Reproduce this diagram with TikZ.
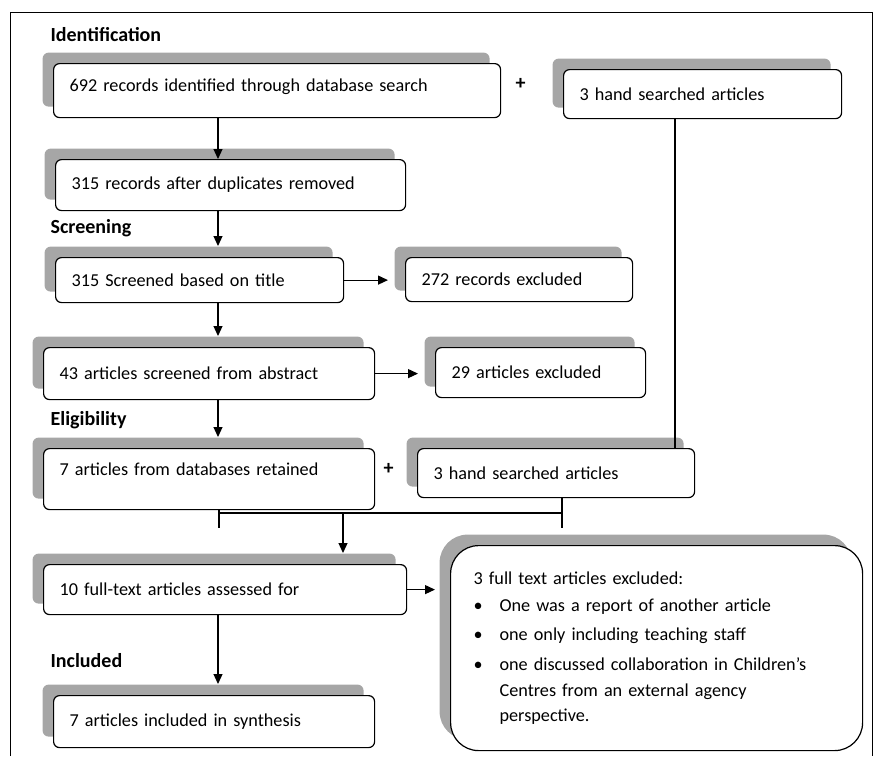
\documentclass[tikz,border=0pt]{standalone}
\usepackage{fontspec}
\setmainfont{Carlito}
\usetikzlibrary{arrows.meta,shadows}

\begin{document}
\begin{tikzpicture}[x=1pt,y=-1pt, line width=1.2pt,
    font=\fontsize{18.2}{25.5}\selectfont,
    box/.style={draw, rounded corners=6pt, fill=white, anchor=north west,
      inner xsep=16pt, inner ysep=0pt, align=left,
      general shadow={fill=black!35, shadow xshift=-11pt, shadow yshift=11pt}},
    head/.style={anchor=west, inner sep=0pt, font=\fontsize{20}{24}\selectfont\bfseries},
    >={Triangle[length=10pt,width=9pt]}, arr/.style={->, shorten >=11pt}]
  \useasboundingbox (0,0) rectangle (878,756);
  \draw[line width=1pt] (10,756) -- (10,12) -- (872,12) -- (872,756);
  \coordinate (spine) at (218,0);
  \coordinate (rspine) at (675,0);
  \node[head] (h1) at (50,35) {Identification};
  \node[head] (h2) at (50,228) {Screening};
  \node[head] (h3) at (50,420) {Eligibility};
  \node[head] (h4) at (50,661) {Included};
  \node[box, text width=415pt, minimum height=54pt, text depth=10pt] (id) at (53,63) {692 records identified through database search};
  \node[head] (p1) at (515,84) {+};
  \node[box, text width=246pt, minimum height=49pt] (hand1) at (563,69) {3 hand searched articles};
  \node[box, text width=318pt, minimum height=51pt] (dup) at (55,159) {315 records after duplicates removed};
  \node[box, text width=256pt, minimum height=45pt] (title) at (55,257) {315 Screened based on title};
  \node[box, text width=195pt, minimum height=44pt] (exc1) at (405,257) {272 records excluded};
  \node[box, text width=299pt, minimum height=52pt] (abstr) at (43,347) {43 articles screened from abstract};
  \node[box, text width=178pt, minimum height=50pt] (exc2) at (435,347) {29 articles excluded};
  \node[box, text width=299pt, minimum height=61pt, text depth=20pt] (retain) at (43,448) {7 articles from databases retained};
  \node[head] (p2) at (383,469) {+};
  \node[box, text width=245pt, minimum height=49pt] (hand2) at (417,448) {3 hand searched articles};
  \node[box, text width=331pt, minimum height=50pt] (full) at (43,564) {10 full-text articles assessed for};
  \node[box, text width=366pt, minimum height=205pt, inner xsep=23pt, rounded corners=28pt] (exc3) at (450,545)
    {3 full text articles excluded:\\[2pt]
     \makebox[26pt][l]{\textbullet}One was a report of another article\\[3pt]
     \makebox[26pt][l]{\textbullet}one only including teaching staff\\[5pt]
     \makebox[26pt][l]{\textbullet}one discussed collaboration in Children’s\\
     \hspace*{26pt}Centres from an external agency\\
     \hspace*{26pt}perspective.};
  \node[box, text width=289pt, minimum height=52pt] (incl) at (53,695) {7 articles included in synthesis};
  % connectors
  \draw[->] (id.south -| spine) -- (dup.north -| spine);
  \draw (hand1.south -| rspine) -- (hand2.north -| rspine);
  \draw[arr] (dup.south -| spine) -- (title.north -| spine);
  \draw[arr] (title.south -| spine) -- (abstr.north -| spine);
  \draw[arr] (abstr.south -| spine) -- (retain.north -| spine);
  \draw[->, shorten >=17pt] (title.east) -- (exc1.west |- title.east);
  \draw[->, shorten >=17pt] (abstr.east) -- (exc2.west |- abstr.east);
  \coordinate (m1) at (219,513);
  \coordinate (m2) at (562,513);
  \coordinate (j) at (343,513);
  \draw (retain.south -| m1) -- ++(0,18);
  \draw (hand2.south -| m2) -- ++(0,30);
  \draw (m1) -- (m2);
  \draw[arr] (j) -- (full.north -| j);
  \draw[->, shorten >=15pt] (full.east) -- (exc3.west |- full.east);
  \draw[arr] (full.south -| spine) -- (incl.north -| spine);
\end{tikzpicture}
\end{document}
